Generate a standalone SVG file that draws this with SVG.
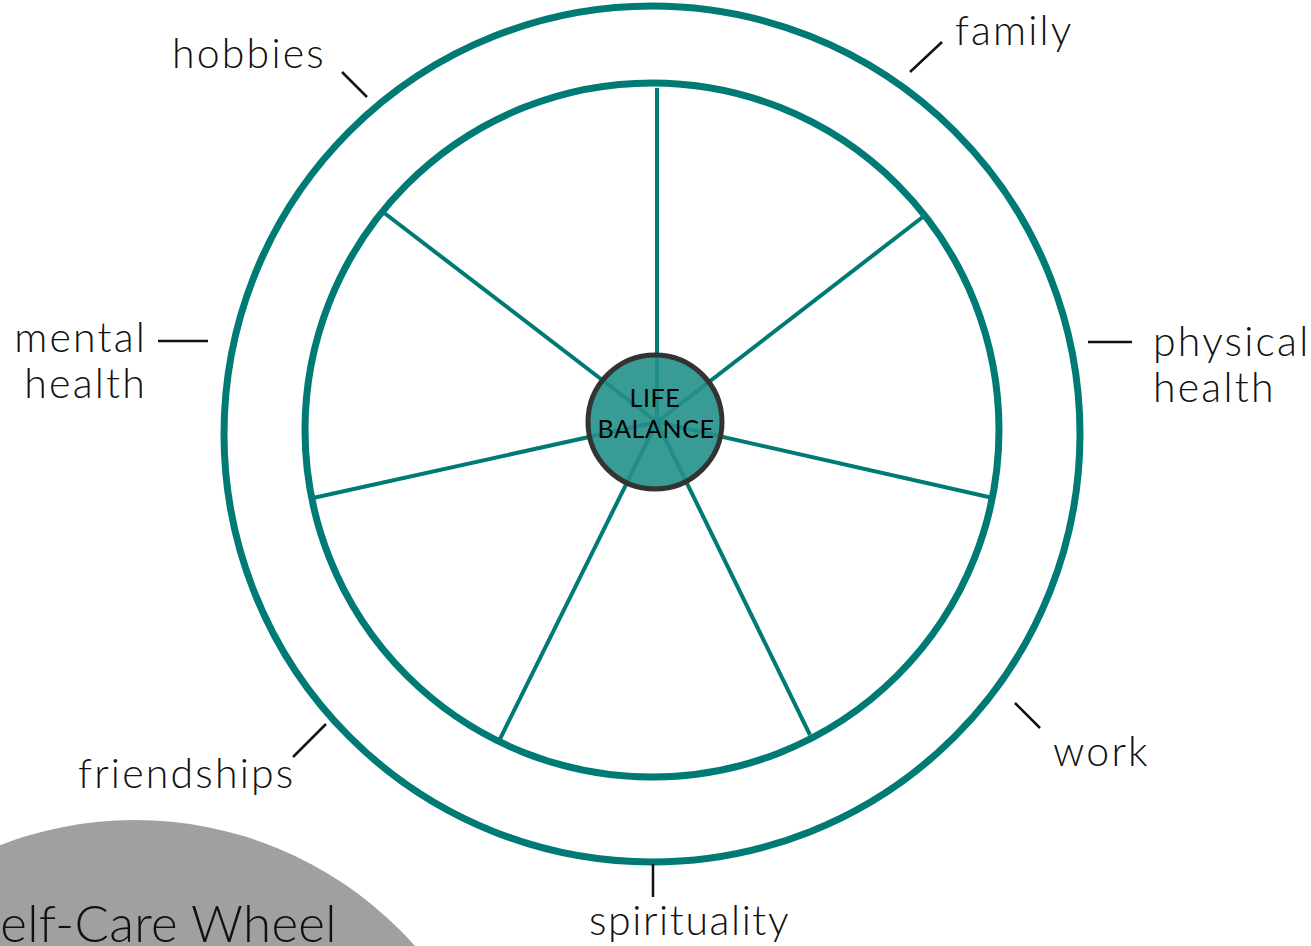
<svg xmlns="http://www.w3.org/2000/svg" width="1311" height="946" viewBox="0 0 1311 946">
<style>
.lbl{font-family:Lato,"Open Sans","Liberation Sans",sans-serif;font-weight:300;font-size:41px;letter-spacing:2.2px;fill:#111}
.tick{stroke:#111;stroke-width:2.5;fill:none}
.spoke{stroke:#007a74;stroke-width:4}
.ring{fill:none;stroke:#007a74;stroke-width:7}
</style>
<rect width="1311" height="946" fill="#fff"/>
<g id="title">
<circle cx="135" cy="1194" r="374" fill="#a0a0a0"/>
<text x="-27" y="942" class="lbl" style="font-size:51px;letter-spacing:0.3px">Self-Care Wheel</text>
</g>
<g id="wheel">
<circle class="ring" cx="652" cy="434" r="428"/>
<circle class="ring" cx="652" cy="430" r="347"/>
</g>
<g id="connectors">
<line class="spoke" x1="657" y1="422" x2="657" y2="88"/>
<line class="spoke" x1="657" y1="422" x2="924" y2="216"/>
<line class="spoke" x1="657" y1="422" x2="993" y2="498"/>
<line class="spoke" x1="657" y1="422" x2="810" y2="735"/>
<line class="spoke" x1="657" y1="422" x2="500" y2="739"/>
<line class="spoke" x1="657" y1="422" x2="313" y2="498"/>
<line class="spoke" x1="657" y1="422" x2="383" y2="212"/>
<line class="tick" x1="342" y1="72" x2="367" y2="97"/>
<line class="tick" x1="910" y1="72" x2="942" y2="42"/>
<line class="tick" x1="158" y1="341" x2="208" y2="341"/>
<line class="tick" x1="1088" y1="342" x2="1132" y2="342"/>
<line class="tick" x1="1015" y1="703" x2="1040" y2="728"/>
<line class="tick" x1="293" y1="757" x2="326" y2="724"/>
<line class="tick" x1="653" y1="864" x2="653" y2="897"/>
</g>
<g id="center">
<circle cx="655" cy="422" r="67" fill="#23908a" fill-opacity="0.9" stroke="#333" stroke-width="5"/>
<text x="655" y="407" text-anchor="middle" class="lbl" style="font-size:25px;fill:#000;font-weight:400;letter-spacing:0.6px">LIFE</text>
<text x="656" y="438" text-anchor="middle" class="lbl" style="font-size:25px;fill:#000;font-weight:400;letter-spacing:0.6px">BALANCE</text>
</g>
<g id="hobbies"><text x="172" y="68" class="lbl">hobbies</text></g>
<g id="family"><text x="955" y="45" class="lbl">family</text></g>
<g id="mental-health"><text x="147" y="352" text-anchor="end" class="lbl">mental</text><text x="147" y="398" text-anchor="end" class="lbl">health</text></g>
<g id="physical-health"><text x="1153" y="356" class="lbl">physical</text><text x="1153" y="402" class="lbl">health</text></g>
<g id="work"><text x="1053" y="766" class="lbl">work</text></g>
<g id="friendships"><text x="78" y="788" class="lbl">friendships</text></g>
<g id="spirituality"><text x="589" y="935" class="lbl" style="letter-spacing:1.6px">spirituality</text></g>
</svg>
